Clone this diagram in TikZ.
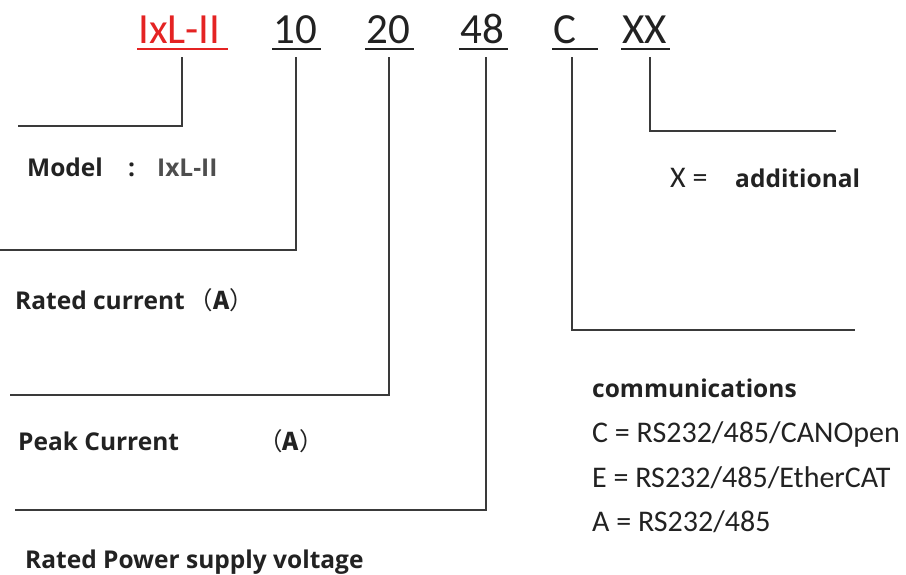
\documentclass[tikz,border=0pt]{standalone}
\usepackage{fontspec}
\setmainfont{Carlito}
\newfontfamily\labfont{Open Sans}
\newfontfamily\cjk{Noto Sans CJK SC}
\definecolor{ink}{HTML}{222222}
\definecolor{linec}{HTML}{3A3A3A}
\definecolor{redc}{HTML}{E42323}
\begin{document}
\begin{tikzpicture}[x=1pt,y=-1pt,
  code/.style={font=\fontsize{43}{43}\selectfont, text=ink, inner sep=0pt, anchor=base west},
  redcode/.style={code, text=redc},
  lab/.style={font=\labfont\bfseries\fontsize{24.5}{24.5}\selectfont, text=ink, inner sep=0pt, anchor=base west},
  opt/.style={font=\fontsize{30}{30}\selectfont, text=ink, inner sep=0pt, anchor=base west},
  lead/.style={draw=linec, line width=2pt},
  uline/.style={draw=ink, line width=1.8pt}]
\useasboundingbox (0,0) rectangle (906,574);
% header codes
\node[redcode] (m) at (138,43) {IxL-II};
\node[code] (i1) at (273,43) {10};
\node[code] (i2) at (366,43) {20};
\node[code] (v) at (460,43) {48};
\node[code] (c) at (553,43) {C};
\node[code] (x) at (622,43) {XX};
% underlines
\draw[draw=redc, line width=1.8pt] (137,49) -- (228,49);
\draw[uline] (272,49) -- (321,49);
\draw[uline] (365,49) -- (414,49);
\draw[uline] (459,49) -- (508,49);
\draw[uline] (552,49) -- (598,49);
\draw[uline] (621,49) -- (670,49);
% leader corners
\coordinate (m0) at (182,57);  \coordinate (mL) at (18,126);
\coordinate (i10) at (296,57); \coordinate (i1L) at (0,250);
\coordinate (i20) at (389,57); \coordinate (i2L) at (10,395);
\coordinate (v0) at (486,57);  \coordinate (vL) at (15,510);
\coordinate (c0) at (572,57);  \coordinate (cR) at (855,330);
\coordinate (x0) at (650,57);  \coordinate (xR) at (836,131);
\draw[lead] (m0) |- (mL);
\draw[lead] (i10) |- (i1L);
\draw[lead] (i20) |- (i2L);
\draw[lead] (v0) |- (vL);
\draw[lead] (c0) |- (cR);
\draw[lead] (x0) |- (xR);
% labels
\node[lab] (lm) at (27,176) {Model};
\node[lab] (lmc) at (128,176) {:};
\node[lab, text=ink!80] (lmv) at (157,176) {IxL-II};
\node[lab] (lr) at (15,309) {Rated current\,{\cjk\mdseries （\textbf{A}）}};
\node[lab] (lp) at (18,450) {Peak Current};
\node[lab] (lpa) at (258,450) {{\cjk\mdseries （\textbf{A}）}};
\node[lab] (lv) at (25,568) {Rated Power supply voltage};
\node[opt] (xx) at (670,187) {X =};
\node[lab] (xa) at (735,187) {additional};
\node[lab] (cm) at (592,397) {communications};
\node[opt] (o1) at (592,442) {C = RS232/485/CANOpen};
\node[opt] (o2) at (592,487) {E = RS232/485/EtherCAT};
\node[opt] (o3) at (592,531) {A = RS232/485};
\end{tikzpicture}
\end{document}
